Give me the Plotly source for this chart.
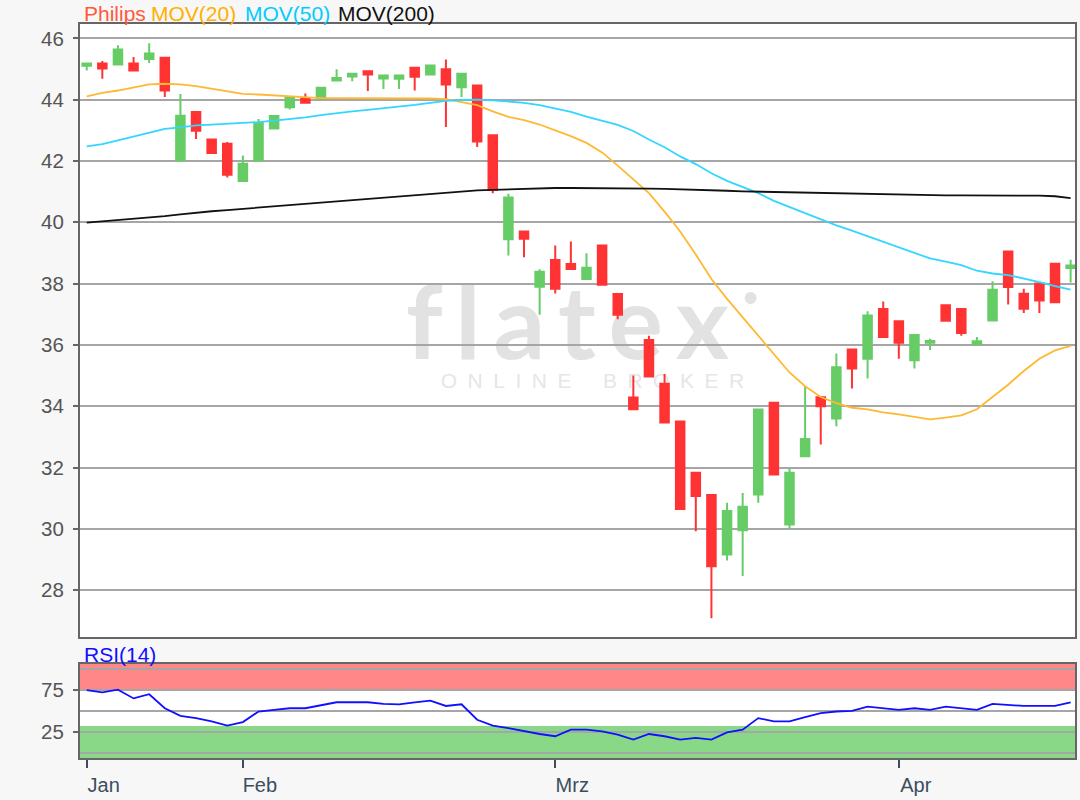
import pandas as pd
import plotly.graph_objects as go

# ---------------- data ----------------
dates = [d.strftime("%Y-%m-%d") for d in pd.bdate_range("2020-01-20", "2020-04-20")
         if d.strftime("%Y-%m-%d") not in ("2020-04-10", "2020-04-13")]

open_ = [45.11, 45.18, 45.15, 45.18, 45.33, 45.37, 42.02, 43.60, 42.70, 42.56,
         41.35, 42.02, 43.06, 43.75, 44.03, 44.04, 44.63, 44.76, 44.93, 44.69,
         44.68, 45.04, 44.82, 44.99, 44.41, 44.46, 42.84, 39.45, 39.70, 37.90,
         38.77, 38.64, 38.15, 39.24, 37.66, 34.28, 36.16, 34.73, 33.50, 31.83,
         31.10, 29.16, 29.95, 31.12, 34.11, 30.14, 32.37, 34.29, 33.60, 35.85,
         35.55, 37.17, 36.77, 35.50, 36.07, 37.29, 37.17, 36.01, 36.80, 39.05,
         37.67, 38.00, 38.65, 38.51]
high = [45.20, 45.26, 45.78, 45.39, 45.84, 45.37, 44.19, 43.60, 42.70, 42.62,
        42.18, 43.37, 43.47, 44.06, 44.20, 44.39, 44.99, 44.85, 44.93, 44.79,
        44.79, 45.04, 45.12, 45.31, 44.85, 44.46, 42.84, 40.93, 39.70, 38.47,
        39.24, 39.37, 38.99, 39.24, 37.66, 35.00, 36.30, 35.05, 33.50, 31.83,
        31.10, 30.85, 31.17, 33.89, 34.11, 31.96, 34.65, 34.29, 35.72, 35.85,
        37.10, 37.42, 36.77, 36.32, 36.20, 37.29, 37.17, 36.26, 38.08, 39.05,
        37.83, 38.00, 38.65, 38.78]
low = [44.95, 44.68, 45.15, 44.95, 45.20, 44.09, 42.02, 42.72, 42.26, 41.46,
       41.35, 42.00, 43.06, 43.68, 43.90, 44.04, 44.63, 44.60, 44.28, 44.35,
       44.35, 44.30, 44.82, 43.11, 44.09, 42.46, 40.95, 38.92, 38.86, 36.98,
       37.68, 38.48, 38.15, 37.96, 36.84, 33.90, 34.97, 33.47, 30.65, 29.92,
       27.08, 28.97, 28.46, 30.85, 31.77, 29.98, 32.37, 32.75, 33.35, 34.58,
       34.90, 36.26, 35.55, 35.23, 35.83, 36.79, 36.30, 36.01, 36.80, 37.32,
       37.04, 37.04, 37.39, 38.04]
close = [45.18, 45.02, 45.64, 44.95, 45.51, 44.30, 43.48, 42.99, 42.26, 41.55,
         41.91, 43.24, 43.47, 44.06, 43.90, 44.39, 44.71, 44.85, 44.82, 44.79,
         44.79, 44.75, 45.12, 44.50, 44.85, 42.64, 41.06, 40.81, 39.46, 38.39,
         37.83, 38.48, 38.52, 37.96, 36.98, 33.90, 34.97, 33.47, 30.65, 31.07,
         28.78, 30.58, 30.72, 33.89, 31.77, 31.83, 32.93, 34.00, 35.27, 35.23,
         36.96, 36.26, 36.07, 36.32, 36.13, 36.79, 36.39, 36.12, 37.80, 37.89,
         37.18, 37.45, 37.39, 38.59]

mov20 = [44.11, 44.22, 44.30, 44.39, 44.50, 44.52, 44.50, 44.44, 44.35, 44.26,
         44.19, 44.17, 44.14, 44.10, 44.07, 44.05, 44.05, 44.05, 44.05, 44.05,
         44.05, 44.05, 44.04, 44.02, 43.93, 43.82, 43.62, 43.44, 43.33, 43.19,
         43.00, 42.81, 42.59, 42.28, 41.85, 41.40, 40.95, 40.35, 39.70, 38.95,
         38.15, 37.50, 36.90, 36.30, 35.70, 35.10, 34.65, 34.30, 34.10, 33.95,
         33.90, 33.80, 33.73, 33.65, 33.57, 33.63, 33.70, 33.90, 34.30, 34.70,
         35.15, 35.55, 35.82, 35.97]
mov50 = [42.48, 42.55, 42.67, 42.80, 42.92, 43.05, 43.10, 43.16, 43.19, 43.21,
         43.24, 43.27, 43.32, 43.36, 43.42, 43.50, 43.57, 43.62, 43.67, 43.72,
         43.77, 43.83, 43.90, 43.96, 43.99, 44.00, 43.98, 43.95, 43.90, 43.82,
         43.72, 43.60, 43.45, 43.32, 43.18, 42.98, 42.70, 42.45, 42.15, 41.90,
         41.60, 41.35, 41.15, 40.95, 40.70, 40.50, 40.30, 40.10, 39.90, 39.73,
         39.55, 39.38, 39.20, 39.00, 38.82, 38.72, 38.60, 38.42, 38.33, 38.28,
         38.17, 38.05, 37.92, 37.80]
mov200 = [39.99, 40.03, 40.07, 40.11, 40.15, 40.20, 40.26, 40.32, 40.36, 40.40,
          40.44, 40.48, 40.52, 40.56, 40.60, 40.65, 40.70, 40.74, 40.78, 40.82,
          40.86, 40.90, 40.94, 40.98, 41.01, 41.04, 41.06, 41.08, 41.10, 41.11,
          41.12, 41.12, 41.12, 41.12, 41.12, 41.11, 41.10, 41.09, 41.08, 41.07,
          41.05, 41.03, 41.01, 41.00, 40.98, 40.97, 40.96, 40.95, 40.94, 40.93,
          40.92, 40.90, 40.89, 40.88, 40.88, 40.88, 40.88, 40.88, 40.88, 40.88,
          40.87, 40.87, 40.85, 40.79]
rsi = [75.0, 72.2, 75.5, 65.0, 70.0, 53.3, 44.3, 41.5, 37.6, 32.5,
       36.8, 49.4, 51.4, 53.3, 53.3, 57.3, 60.4, 60.4, 60.4, 58.5,
       58.0, 60.4, 62.4, 56.0, 58.0, 39.6, 32.5, 29.7, 25.8, 22.6,
       19.9, 27.8, 27.8, 25.8, 21.9, 16.0, 22.6, 19.9, 16.0, 18.0,
       16.0, 24.6, 27.8, 41.5, 37.6, 37.6, 42.7, 47.4, 49.4, 50.2,
       55.3, 53.3, 51.4, 53.3, 51.4, 55.3, 53.3, 51.4, 58.5, 57.3,
       56.0, 56.0, 56.0, 60.4]

price_ticks = [28, 30, 32, 34, 36, 38, 40, 42, 44, 46]
month_ticks = ["2020-01-20", "2020-02-03", "2020-03-02", "2020-04-01"]
month_labels = ["Jan", "Feb", "Mrz", "Apr"]
rsi_ticks = [25, 75]
rsi_minor = [0, 50, 100]

FONT = "Liberation Sans, Arial, sans-serif"
GREEN = "#66cc66"
RED = "#ff3333"

fig = go.Figure()
fig.add_trace(go.Candlestick(
    x=dates, open=open_, high=high, low=low, close=close,
    increasing=dict(line=dict(color=GREEN, width=2), fillcolor=GREEN),
    decreasing=dict(line=dict(color=RED, width=2), fillcolor=RED),
    whiskerwidth=0, showlegend=False, xaxis="x", yaxis="y", hoverinfo="skip"))
fig.add_trace(go.Scatter(x=dates, y=mov20, mode="lines", line=dict(color="#ffb833", width=1.8),
                         showlegend=False, xaxis="x", yaxis="y"))
fig.add_trace(go.Scatter(x=dates, y=mov50, mode="lines", line=dict(color="#33d6ff", width=1.8),
                         showlegend=False, xaxis="x", yaxis="y"))
fig.add_trace(go.Scatter(x=dates, y=mov200, mode="lines", line=dict(color="#111111", width=1.8),
                         showlegend=False, xaxis="x", yaxis="y"))
fig.add_trace(go.Scatter(x=dates, y=rsi, mode="lines", line=dict(color="#1010ff", width=1.8),
                         showlegend=False, xaxis="x2", yaxis="y2"))

# pixel helpers for layout (plot area 24..758 px high)
TOP, BOT = 24, 758
H = BOT - TOP
def py(p):
    return (BOT - p) / H

main_dom = [py(637), 1.0]
rsi_dom = [0.0, py(664)]

axis_line = dict(showline=True, linecolor="#666666", linewidth=2, mirror=True)
fig.update_layout(
    width=1080, height=800,
    margin=dict(l=80, r=3, t=TOP, b=800 - BOT),
    paper_bgcolor="#f7f7f7", plot_bgcolor="#ffffff",
    font=dict(family=FONT, size=20, color="#555555"),
    boxgap=0.22,
    xaxis=dict(type="category", range=[-0.43, 63.28], anchor="y", domain=[0, 1],
               showticklabels=False, ticks="", showgrid=False,
               rangeslider=dict(visible=False), **axis_line),
    yaxis=dict(domain=main_dom, range=[26.47, 46.47], tickvals=price_ticks,
               ticks="outside", ticklen=5, tickcolor="#666666", tickwidth=1.5,
               ticklabelstandoff=5,
               showgrid=True, gridcolor="#a6a6a6", gridwidth=1.6, zeroline=False,
               tickfont=dict(size=20.5, color="#555555"), **axis_line),
    xaxis2=dict(type="category", matches="x", anchor="y2", domain=[0, 1],
                tickvals=month_ticks, ticktext=month_labels, ticks="outside",
                ticklen=8, tickwidth=1.5, tickcolor="#3d4d5e", showgrid=False,
                ticklabelshift=17, tickfont=dict(size=20, color="#3d4d5e"),
                **axis_line),
    yaxis2=dict(domain=rsi_dom, range=[-6, 106], tickvals=rsi_ticks,
                ticks="outside", ticklen=5, tickcolor="#666666", tickwidth=1.5,
                ticklabelstandoff=5,
                showgrid=True, gridcolor="#a6a6a6", gridwidth=1.6, zeroline=False,
                minor=dict(tickvals=rsi_minor, showgrid=True, gridcolor="#a6a6a6",
                           gridwidth=1.6, ticks=""),
                tickfont=dict(size=20.5, color="#555555"), **axis_line),
)

# RSI zones
fig.add_shape(type="rect", xref="x2 domain", yref="y2", x0=0, x1=1, y0=74, y1=106,
              fillcolor="#ff8787", line=dict(width=0), layer="below")
fig.add_shape(type="rect", xref="x2 domain", yref="y2", x0=0, x1=1, y0=-6, y1=32,
              fillcolor="#88d888", line=dict(width=0), layer="below")

# watermark
fig.add_shape(type="rect", xref="x domain", yref="y domain", x0=0.28, x1=0.70, y0=0.43, y1=0.61,
              fillcolor="rgba(0,0,0,0)", line=dict(width=0), layer="below",
              label=dict(text="f\u2009l\u2009a\u2009t\u2009e\u2009x", textposition="middle center",
                         font=dict(family="Lato, sans-serif", size=102, weight="bold",
                                   color="#e2e2e2")))
fig.add_shape(type="circle", xref="x domain", yref="y domain", x0=0.668, x1=0.680,
              y0=0.543, y1=0.563, fillcolor="#e2e2e2", line=dict(width=0), layer="below")
sp = "\u2002"
fig.add_shape(type="rect", xref="x domain", yref="y domain", x0=0.33, x1=0.70, y0=0.40, y1=0.445,
              fillcolor="rgba(0,0,0,0)", line=dict(width=0), layer="below",
              label=dict(text=sp.join("ONLINE") + sp * 3 + sp.join("BROKER"),
                         textposition="middle center",
                         font=dict(family=FONT, size=21, color="#e6e6e6")))

# header texts
title_parts = [("Philips", "#ff5a3c", 82), ("MOV(20)", "#ffb000", 149),
               ("MOV(50)", "#00ccff", 243), ("MOV(200)", "#111111", 337)]
for text, color, px in title_parts:
    fig.add_annotation(text=text, xref="paper", yref="paper", x=(px - 80) / 997, y=py(13),
                       xanchor="left", yanchor="middle", showarrow=False,
                       font=dict(family=FONT, size=21, color=color))
fig.add_annotation(text="RSI(14)", xref="paper", yref="paper", x=(82 - 80) / 997, y=py(654),
                   xanchor="left", yanchor="middle", showarrow=False,
                   font=dict(family=FONT, size=21, color="#1010ff"))

fig.write_html("out.html", config={"displayModeBar": False},
               post_script="document.body.style.margin='0px';")
